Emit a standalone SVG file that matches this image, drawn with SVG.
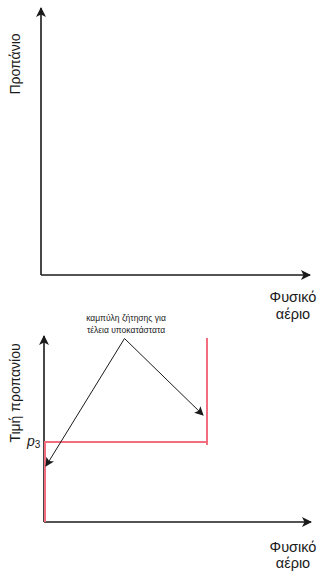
<svg xmlns="http://www.w3.org/2000/svg" width="321" height="576" viewBox="0 0 321 576">
<style>
.ax{stroke:#1a1a1a;stroke-width:1.6;fill:none}
.red{stroke:#f26e7e;stroke-width:2;fill:none}
.ln{stroke:#1a1a1a;stroke-width:1;fill:none}
.t{font-family:"Liberation Sans",Arial,sans-serif;fill:#1a1a1a}
</style>
<defs>
<marker id="ah" markerWidth="10" markerHeight="10" refX="9" refY="5" orient="auto" markerUnits="userSpaceOnUse">
<path d="M0,0 L10,5 L0,10 L2.5,5 Z" fill="#1a1a1a"/>
</marker>
<marker id="sa" markerWidth="9" markerHeight="9" refX="8" refY="4.5" orient="auto" markerUnits="userSpaceOnUse">
<path d="M0,0 L9,4.5 L0,9 L2,4.5 Z" fill="#1a1a1a"/>
</marker>
</defs>
<rect width="321" height="576" fill="#fff"/>
<g id="top-chart">
<line class="ax" x1="41" y1="275" x2="41" y2="8" marker-end="url(#ah)"/>
<line class="ax" x1="41" y1="275" x2="310" y2="275" marker-end="url(#ah)"/>
<text class="t" font-size="14" transform="translate(20,64) rotate(-90)" text-anchor="middle">Προπάνιο</text>
<text class="t" font-size="14.5" x="293" y="302" text-anchor="middle">Φυσικό</text>
<text class="t" font-size="14.5" x="293" y="319" text-anchor="middle">αέριο</text>
</g>
<g id="bottom-chart">
<line class="ax" x1="44" y1="522" x2="44" y2="336" marker-end="url(#ah)"/>
<line class="ax" x1="44" y1="522" x2="311" y2="522" marker-end="url(#ah)"/>
<text class="t" font-size="14" transform="translate(20,393) rotate(-90)" text-anchor="middle">Τιμή προπανίου</text>
<text class="t" font-size="14.5" x="293" y="552" text-anchor="middle">Φυσικό</text>
<text class="t" font-size="14.5" x="293" y="568" text-anchor="middle">αέριο</text>
<text class="t" font-size="14" x="27" y="446" font-style="italic">p<tspan font-size="10" font-style="normal" dy="2">3</tspan></text>
</g>
<g id="demand-curve">
<polyline class="red" points="45,522 45,442 207,442"/>
<line class="red" x1="207" y1="338" x2="207" y2="445"/>
</g>
<g id="label">
<text class="t" font-size="8.5" x="126" y="321" text-anchor="middle">καμπύλη ζήτησης για</text>
<text class="t" font-size="8.5" x="126" y="333" text-anchor="middle">τέλεια υποκατάστατα</text>
</g>
<g id="connectors">
<line class="ln" x1="124.5" y1="338.5" x2="203" y2="415" marker-end="url(#sa)"/>
<line class="ln" x1="124.5" y1="338.5" x2="46" y2="466" marker-end="url(#sa)"/>
</g>
</svg>
